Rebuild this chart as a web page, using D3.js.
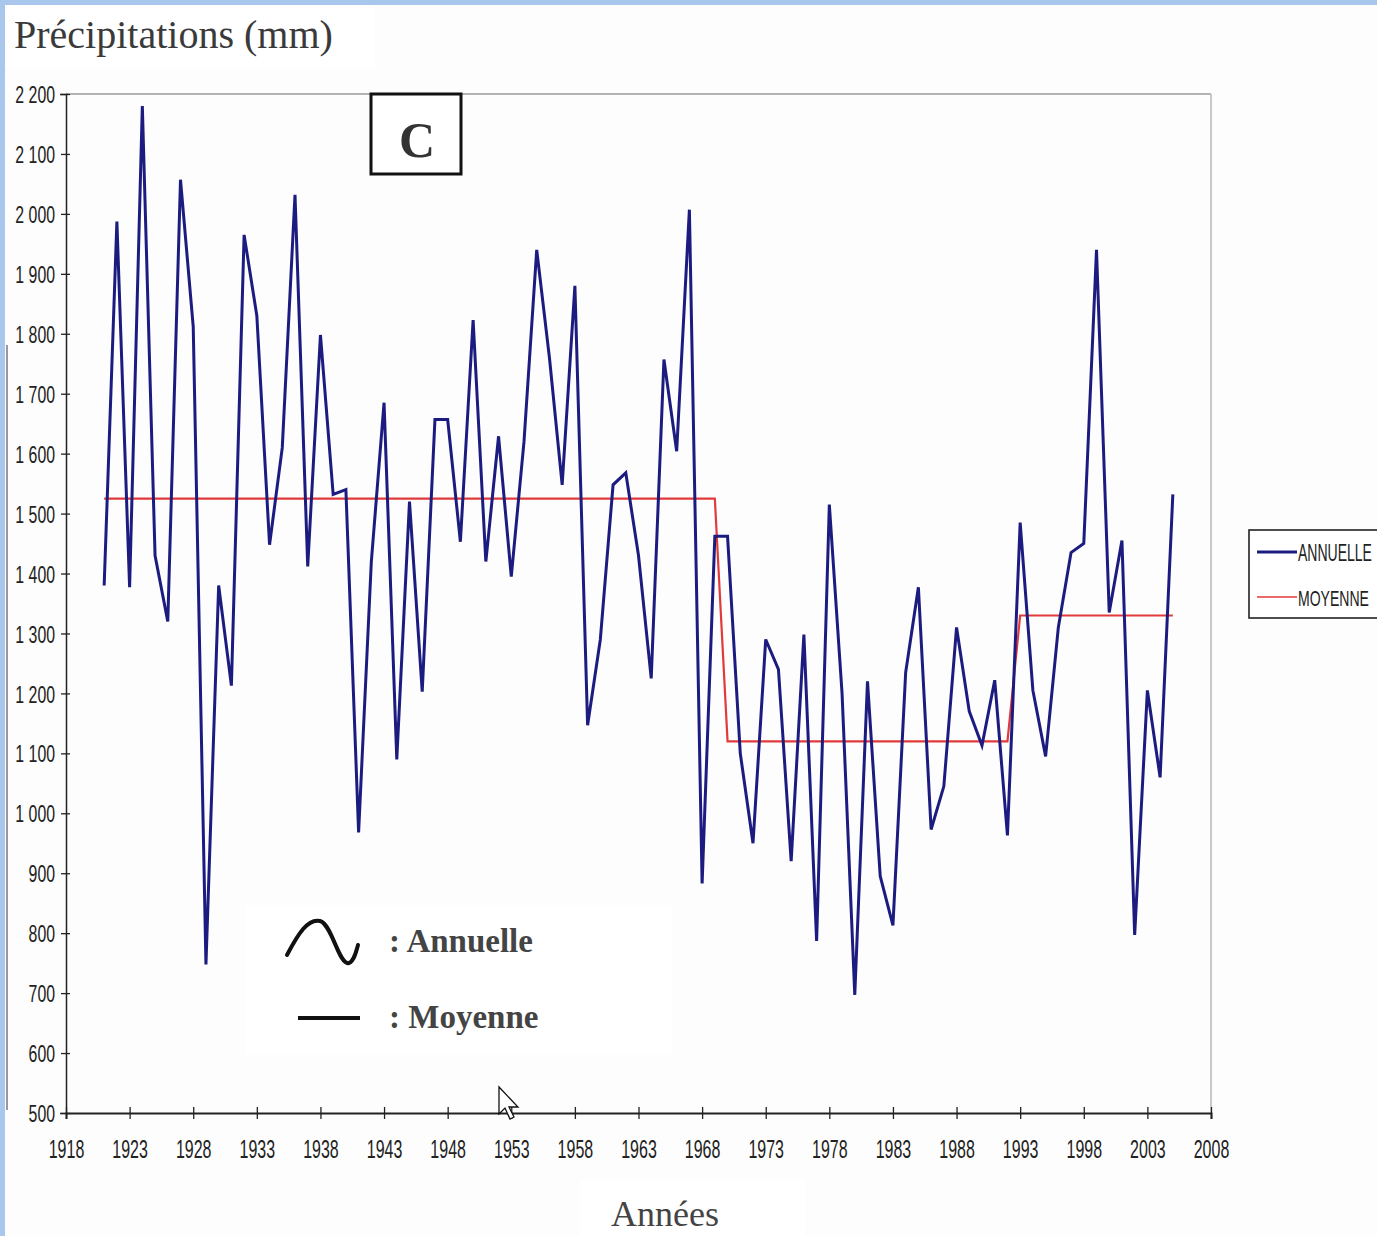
<!DOCTYPE html>
<html>
<head>
<meta charset="utf-8">
<script src="https://cdn.jsdelivr.net/npm/d3@7/dist/d3.min.js"></script>
<style>
  html, body { margin: 0; padding: 0; background: #ffffff; }
  svg { display: block; }
  .tick text { font-family: "Liberation Sans Narrow", "Arial Narrow", "Liberation Sans", sans-serif; }
</style>
</head>
<body>
<svg id="chart" width="1377" height="1236"></svg>
<script>
// Annual rainfall series, one value per year starting at firstYear
const firstYear = 1921;
const annual = [
  1380, 1987, 1377, 2180, 1430, 1320, 2057, 1812, 748, 1380,
  1213, 1965, 1830, 1448, 1610, 2032, 1412, 1798, 1532, 1540,
  968, 1420, 1685, 1090, 1520, 1203, 1657, 1657, 1453, 1823,
  1420, 1629, 1395, 1620, 1940, 1760, 1548, 1880, 1147, 1290,
  1548, 1568, 1430, 1225, 1757, 1604, 2007, 883, 1462, 1462,
  1100, 950, 1290, 1240, 920, 1298, 787, 1515, 1200, 697,
  1220, 895, 813, 1235, 1377, 973, 1045, 1310, 1170, 1113,
  1222, 963, 1485, 1205, 1095, 1310, 1435, 1450, 1940, 1335,
  1455, 797, 1205, 1060, 1532
];

// Period means (stepped line)
const meanStarts = [1921, 1970, 1993];
const meanEnds   = [1969, 1992, 2005];
const meanValues = [1525, 1120, 1330];

// Axis ticks
const xTicks = [1918, 1923, 1928, 1933, 1938, 1943, 1948, 1953, 1958, 1963, 1968, 1973, 1978, 1983, 1988, 1993, 1998, 2003, 2008];
const yTicks = [500, 600, 700, 800, 900, 1000, 1100, 1200, 1300, 1400, 1500, 1600, 1700, 1800, 1900, 2000, 2100, 2200];

const seriesNames = ["ANNUELLE", "MOYENNE"];
const titleText = "Précipitations (mm)";
const xTitle = "Années";
const panelLetter = "C";
const keyLabels = [": Annuelle", ": Moyenne"];

const annualData = annual.map((v, i) => ({ year: firstYear + i, value: v }));
const meanData = [];
meanStarts.forEach((s, k) => {
  for (let yr = s; yr <= meanEnds[k]; yr++) meanData.push({ year: yr, value: meanValues[k] });
});

const svg = d3.select("#chart");
const W = 1377, H = 1236;
const narrow = "'Liberation Sans Narrow', 'Arial Narrow', 'Liberation Sans', sans-serif";
const serif = "'Liberation Serif', 'Times New Roman', serif";

// Squeeze a text horizontally to imitate a condensed face
function condense(sel, ratio) {
  sel.each(function () {
    const w = this.getComputedTextLength();
    d3.select(this).attr("textLength", w * ratio).attr("lengthAdjust", "spacingAndGlyphs");
  });
}

const x = d3.scaleLinear().domain([1918, 2008]).range([66, 1211]);
const y = d3.scaleLinear().domain([500, 2200]).range([1113, 94]);

// Page frame
svg.append("rect").attr("x", 0).attr("y", 0).attr("width", W).attr("height", H).attr("fill", "#fdfdfd");
svg.append("rect").attr("x", 0).attr("y", 0).attr("width", W).attr("height", 5).attr("fill", "#a9c7ec");
svg.append("rect").attr("x", 0).attr("y", 0).attr("width", 5).attr("height", H).attr("fill", "#a9c7ec");
svg.append("line").attr("x1", 7).attr("x2", 7).attr("y1", 345).attr("y2", 1110)
  .attr("stroke", "#777").attr("stroke-width", 1.5);

// Title
svg.append("rect").attr("x", 5).attr("y", 5).attr("width", 370).attr("height", 62).attr("fill", "#ffffff");
svg.append("text").attr("x", 14).attr("y", 48)
  .attr("font-family", serif)
  .attr("font-size", 40).attr("fill", "#3a3a3a").text(titleText);

// Plot frame (top and right sides)
svg.append("line").attr("x1", x(1918)).attr("x2", x(2008)).attr("y1", y(2200)).attr("y2", y(2200))
  .attr("stroke", "#9a9a9a").attr("stroke-width", 1.5);
svg.append("line").attr("x1", x(2008)).attr("x2", x(2008)).attr("y1", y(2200)).attr("y2", y(500))
  .attr("stroke", "#c8c8c8").attr("stroke-width", 2);

// Axes
const fmt = d3.formatLocale({ decimal: ",", thousands: " ", grouping: [3], currency: ["", ""] }).format(",d");

const yAxis = d3.axisLeft(y).tickValues(yTicks).tickFormat(fmt).tickSize(6).tickPadding(5);
const gy = svg.append("g").attr("transform", `translate(${x(1918)},0)`).call(yAxis);
gy.select(".domain").attr("stroke", "#222").attr("stroke-width", 1.5);
gy.selectAll(".tick line").attr("stroke", "#222").attr("stroke-width", 1.3).attr("x2", -5).attr("x1", 4);
gy.selectAll(".tick text").attr("font-size", 24).attr("fill", "#222").attr("x", -11).attr("dy", "0.36em")
  .call(condense, 0.66);

const xAxis = d3.axisBottom(x).tickValues(xTicks).tickFormat(d3.format("d")).tickSize(6).tickPadding(24);
const gx = svg.append("g").attr("transform", `translate(0,${y(500)})`).call(xAxis);
gx.select(".domain").attr("stroke", "#222").attr("stroke-width", 2);
gx.selectAll(".tick line").attr("stroke", "#222").attr("stroke-width", 1.3).attr("y1", -6).attr("y2", 6);
gx.selectAll(".tick text").attr("font-size", 25).attr("fill", "#222").attr("dy", "0.6em")
  .call(condense, 0.64);

// Axis title
svg.append("rect").attr("x", 580).attr("y", 1180).attr("width", 225).attr("height", 56).attr("fill", "#ffffff");
svg.append("text").attr("x", 665).attr("y", 1226).attr("text-anchor", "middle")
  .attr("font-family", serif)
  .attr("font-size", 36).attr("fill", "#444").text(xTitle);

// Key panel inside the plot
svg.append("rect").attr("x", 245).attr("y", 905).attr("width", 427).attr("height", 150).attr("fill", "#ffffff");
svg.append("path")
  .attr("d", "M287,955 C298,934 308,918 320,921 C332,924 339,966 349,963 C354,961 356,952 358,945")
  .attr("fill", "none").attr("stroke", "#111").attr("stroke-width", 4).attr("stroke-linecap", "round");
svg.append("line").attr("x1", 298).attr("x2", 360).attr("y1", 1018).attr("y2", 1018)
  .attr("stroke", "#111").attr("stroke-width", 4);
keyLabels.forEach((t, i) => {
  svg.append("text").attr("x", 389).attr("y", i === 0 ? 952 : 1028)
    .attr("font-family", serif).attr("font-weight", "bold")
    .attr("font-size", 33).attr("fill", "#444").text(t);
});

// Series lines
const line = d3.line().x(d => x(d.year)).y(d => y(d.value));
svg.append("path").datum(meanData).attr("d", line)
  .attr("fill", "none").attr("stroke", "#e23a3a").attr("stroke-width", 2.2);
svg.append("path").datum(annualData).attr("d", line)
  .attr("fill", "none").attr("stroke", "#1c1c80").attr("stroke-width", 3).attr("stroke-linejoin", "miter");

// Panel letter
svg.append("rect").attr("x", 371).attr("y", 94).attr("width", 90).attr("height", 80)
  .attr("fill", "#ffffff").attr("stroke", "#111").attr("stroke-width", 3);
svg.append("text").attr("x", 417).attr("y", 157).attr("text-anchor", "middle")
  .attr("font-family", serif).attr("font-weight", "bold")
  .attr("font-size", 50).attr("fill", "#333").text(panelLetter);

// Series legend (right)
const lg = svg.append("g");
lg.append("rect").attr("x", 1249).attr("y", 530).attr("width", 140).attr("height", 88)
  .attr("fill", "#ffffff").attr("stroke", "#222").attr("stroke-width", 1.6);
const legendColors = ["#1c1c80", "#e23a3a"];
const legendWidths = [3, 1.6];
const legendTextW = [74, 71];
seriesNames.forEach((n, i) => {
  const yy = i === 0 ? 552 : 597;
  lg.append("line").attr("x1", 1257).attr("x2", 1297).attr("y1", yy).attr("y2", yy)
    .attr("stroke", legendColors[i]).attr("stroke-width", legendWidths[i]);
  const t = lg.append("text").attr("x", 0).attr("y", 0)
    .attr("font-family", narrow)
    .attr("font-size", 23).attr("fill", "#222").text(n);
  const w = t.node().getComputedTextLength();
  t.attr("transform", `translate(1298,${yy + 9}) scale(${legendTextW[i] / w},1)`);
});

// Mouse pointer
svg.append("path")
  .attr("d", "M0,0 L0,27 L6,21 L11,32 L15,30 L10,20 L19,20 Z")
  .attr("transform", "translate(499,1087)")
  .attr("fill", "#ffffff").attr("stroke", "#111").attr("stroke-width", 1.3);
</script>
</body>
</html>
